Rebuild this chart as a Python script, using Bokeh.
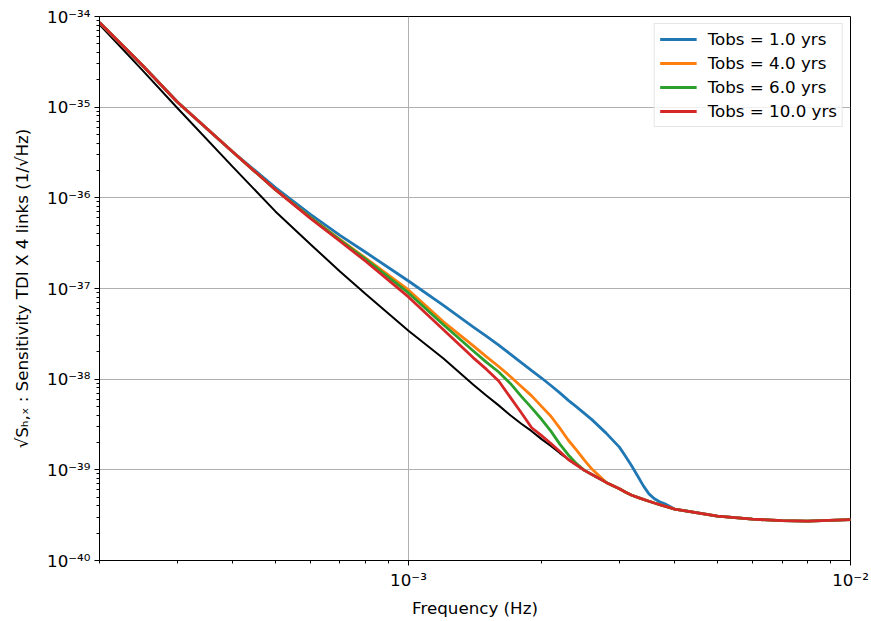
from bokeh.plotting import figure
from bokeh.models import Range1d, FixedTicker, CustomJSTickFormatter, Legend, LegendItem
from bokeh.embed import file_html
from bokeh.resources import INLINE

# ---- data ----
freq = [2.0e-4, 2.5e-4, 3.0e-4, 4.0e-4, 5.0e-4, 6.0e-4, 7.0e-4, 8.0e-4,
        1.0e-3, 1.2e-3, 1.4e-3, 1.5e-3, 1.6e-3, 1.7e-3, 1.8e-3, 1.9e-3,
        2.0e-3, 2.1e-3, 2.2e-3, 2.3e-3, 2.4e-3, 2.5e-3, 2.6e-3, 2.8e-3,
        3.0e-3, 3.1e-3, 3.2e-3, 3.3e-3, 3.4e-3, 3.5e-3, 3.6e-3, 3.7e-3,
        3.8e-3, 4.0e-3, 5.0e-3, 6.0e-3, 7.0e-3, 8.0e-3, 1.0e-2]

sens_instrument = [8.17e-35, 2.56e-35, 9.79e-36, 2.21e-36, 7.08e-37, 3.08e-37, 1.54e-37, 8.71e-38,
                   3.42e-38, 1.69e-38, 8.74e-39, 6.62e-39, 5.14e-39, 4.00e-39, 3.22e-39, 2.67e-39,
                   2.18e-39, 1.83e-39, 1.53e-39, 1.30e-39, 1.13e-39, 9.86e-40, 8.89e-40, 7.27e-40,
                   6.17e-40, 5.66e-40, 5.25e-40, 4.97e-40, 4.72e-40, 4.50e-40, 4.31e-40, 4.14e-40,
                   3.98e-40, 3.69e-40, 3.08e-40, 2.86e-40, 2.75e-40, 2.72e-40, 2.82e-40]

sens_tobs_1 = [8.59e-35, 2.90e-35, 1.14e-35, 3.22e-36, 1.30e-36, 6.57e-37, 3.86e-37, 2.51e-37,
               1.21e-37, 6.51e-38, 3.78e-38, 2.98e-38, 2.37e-38, 1.89e-38, 1.52e-38, 1.24e-38,
               1.03e-38, 8.52e-39, 7.05e-39, 5.84e-39, 4.94e-39, 4.20e-39, 3.58e-39, 2.54e-39,
               1.78e-39, 1.40e-39, 1.10e-39, 8.56e-40, 6.65e-40, 5.43e-40, 4.79e-40, 4.44e-40,
               4.22e-40, 3.69e-40, 3.08e-40, 2.86e-40, 2.75e-40, 2.72e-40, 2.82e-40]

sens_tobs_4 = [8.59e-35, 2.90e-35, 1.14e-35, 3.22e-36, 1.23e-36, 6.09e-37, 3.49e-37, 2.16e-37,
               9.63e-38, 4.29e-38, 2.34e-38, 1.77e-38, 1.38e-38, 1.07e-38, 8.31e-39, 6.54e-39,
               5.01e-39, 3.90e-39, 2.88e-39, 2.12e-39, 1.65e-39, 1.28e-39, 1.02e-39, 7.27e-40,
               6.17e-40, 5.66e-40, 5.25e-40, 4.97e-40, 4.72e-40, 4.50e-40, 4.31e-40, 4.14e-40,
               3.98e-40, 3.69e-40, 3.08e-40, 2.86e-40, 2.75e-40, 2.72e-40, 2.82e-40]

sens_tobs_6 = [8.59e-35, 2.90e-35, 1.14e-35, 3.22e-36, 1.23e-36, 6.09e-37, 3.41e-37, 2.11e-37,
               8.93e-38, 3.98e-38, 2.06e-38, 1.54e-38, 1.20e-38, 8.97e-39, 6.46e-39, 4.83e-39,
               3.61e-39, 2.67e-39, 1.92e-39, 1.46e-39, 1.17e-39, 9.86e-40, 8.89e-40, 7.27e-40,
               6.17e-40, 5.66e-40, 5.25e-40, 4.97e-40, 4.72e-40, 4.50e-40, 4.31e-40, 4.14e-40,
               3.98e-40, 3.69e-40, 3.08e-40, 2.86e-40, 2.75e-40, 2.72e-40, 2.82e-40]

sens_tobs_10 = [8.59e-35, 2.90e-35, 1.14e-35, 3.22e-36, 1.23e-36, 5.93e-37, 3.32e-37, 2.00e-37,
                8.07e-38, 3.51e-38, 1.73e-38, 1.29e-38, 9.55e-39, 6.30e-39, 4.26e-39, 2.91e-39,
                2.38e-39, 1.95e-39, 1.59e-39, 1.30e-39, 1.13e-39, 9.86e-40, 8.89e-40, 7.27e-40,
                6.17e-40, 5.66e-40, 5.25e-40, 4.97e-40, 4.72e-40, 4.50e-40, 4.31e-40, 4.14e-40,
                3.98e-40, 3.69e-40, 3.08e-40, 2.86e-40, 2.75e-40, 2.72e-40, 2.82e-40]

series_labels = ["Tobs = 1.0 yrs", "Tobs = 4.0 yrs", "Tobs = 6.0 yrs", "Tobs = 10.0 yrs"]
series_values = [sens_tobs_1, sens_tobs_4, sens_tobs_6, sens_tobs_10]
series_colors = ["#1f77b4", "#ff7f0e", "#2ca02c", "#d62728"]

x_major_ticks = [1e-3, 1e-2]
x_minor_ticks = [2e-4, 3e-4, 4e-4, 5e-4, 6e-4, 7e-4, 8e-4, 9e-4,
                 2e-3, 3e-3, 4e-3, 5e-3, 6e-3, 7e-3, 8e-3, 9e-3]
y_major_ticks = [1e-40, 1e-39, 1e-38, 1e-37, 1e-36, 1e-35, 1e-34]
y_minor_ticks = [m * t for t in y_major_ticks[:-1] for m in range(2, 10)]

FONT = "DejaVu Sans"
FS = "16.7px"

p = figure(width=870, height=620, x_axis_type="log", y_axis_type="log",
           x_range=Range1d(2e-4, 1e-2), y_range=Range1d(1e-40, 1e-34),
           output_backend="svg", toolbar_location=None,
           min_border_left=99, min_border_right=20, min_border_top=16, min_border_bottom=57)

p.background_fill_color = "white"
p.border_fill_color = "white"
p.outline_line_color = "black"
p.outline_line_width = 1

fmt = CustomJSTickFormatter(code="""
const sup = {"-": "\\u207b", "0": "\\u2070", "1": "\\u00b9", "2": "\\u00b2", "3": "\\u00b3",
             "4": "\\u2074", "5": "\\u2075", "6": "\\u2076", "7": "\\u2077", "8": "\\u2078", "9": "\\u2079"};
const e = Math.round(Math.log10(tick));
return "10" + String(e).split("").map(c => sup[c]).join("");
""")

p.xaxis.ticker = FixedTicker(ticks=x_major_ticks, minor_ticks=x_minor_ticks)
p.yaxis.ticker = FixedTicker(ticks=y_major_ticks, minor_ticks=y_minor_ticks)
for ax in (p.xaxis, p.yaxis):
    ax.formatter = fmt
    ax.axis_line_color = "black"
    ax.major_tick_line_color = "black"
    ax.minor_tick_line_color = "black"
    ax.major_tick_out = 5
    ax.major_tick_in = 0
    ax.minor_tick_out = 3
    ax.minor_tick_in = 0
    ax.major_label_text_font = FONT
    ax.major_label_text_font_size = FS
    ax.major_label_text_color = "black"
    ax.axis_label_text_font = FONT
    ax.axis_label_text_font_size = FS
    ax.axis_label_text_font_style = "normal"
    ax.axis_label_text_color = "black"
    ax.major_label_standoff = 4

p.xaxis.axis_label = "Frequency (Hz)"
p.xaxis.axis_label_standoff = 5
p.yaxis.axis_label = "\u221aS\u2095,\u2093 : Sensitivity TDI X 4 links (1/\u221aHz)"
p.yaxis.axis_label_standoff = 12

p.xgrid.grid_line_color = "#b0b0b0"
p.ygrid.grid_line_color = "#b0b0b0"
p.xgrid.grid_line_width = 1
p.ygrid.grid_line_width = 1

p.line(freq, sens_instrument, line_color="black", line_width=2)

items = []
for lab, vals, col in zip(series_labels, series_values, series_colors):
    r = p.line(freq, vals, line_color=col, line_width=2.8)
    items.append(LegendItem(label=lab, renderers=[r]))

legend = Legend(items=items, location="top_right")
legend.label_text_font = FONT
legend.label_text_font_size = FS
legend.label_text_color = "black"
legend.border_line_color = "#cccccc"
legend.border_line_width = 1
legend.background_fill_color = "white"
legend.background_fill_alpha = 0.8
legend.margin = 7
legend.padding = 5
legend.spacing = 4
legend.glyph_width = 37
legend.glyph_height = 20
legend.label_height = 20
legend.label_standoff = 11
p.add_layout(legend)

open("out.html", "w").write(file_html(p, INLINE))
